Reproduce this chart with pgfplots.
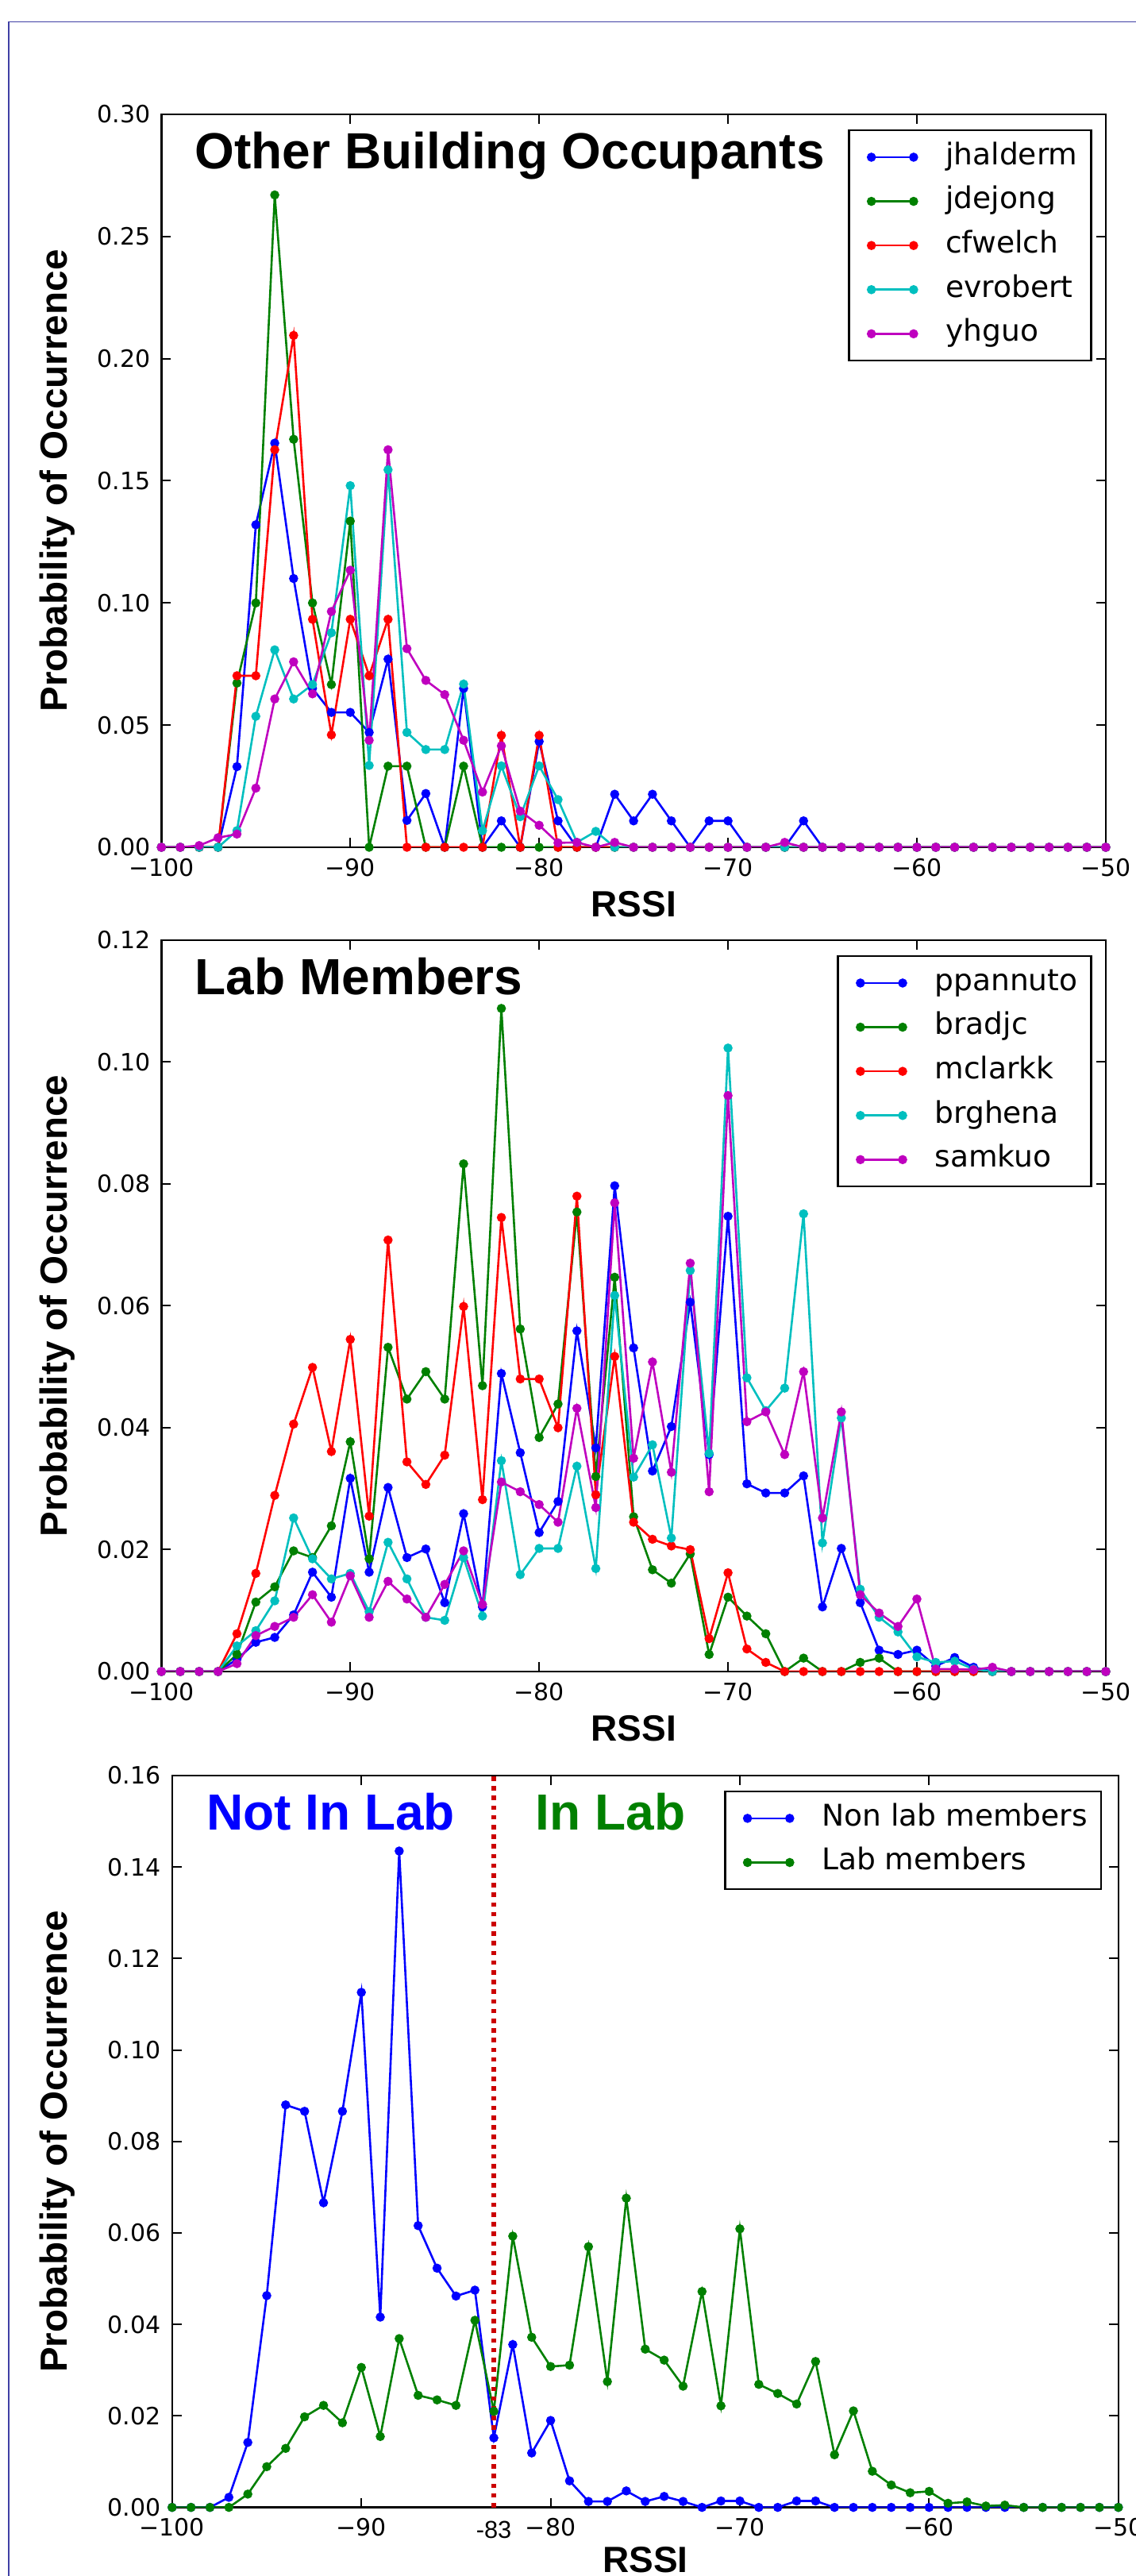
\documentclass[border=0pt]{standalone}
\usepackage{pgfplots}
\pgfplotsset{compat=1.18}
\usepackage{pgfplotstable}
\usepackage{fontspec}
\setmainfont{DejaVu Sans}
\newfontfamily\dejavu{DejaVu Sans}
\newfontfamily\lib{Liberation Sans}
\definecolor{mb}{rgb}{0,0,1}
\definecolor{mg}{rgb}{0,0.5,0}
\definecolor{mr}{rgb}{1,0,0}
\definecolor{mc}{rgb}{0,0.75,0.75}
\definecolor{mm}{rgb}{0.75,0,0.75}
\definecolor{framec}{RGB}{64,64,165}
\definecolor{dred}{RGB}{204,0,0}

% Panel 1: other building occupants
\pgfplotstableread{
x B G R C M
-100 0 0 0 0 0
-99 0 0 0 0 0
-98 0 0 0 0 0.0007
-97 0 0 0 0 0.0039
-96 0.033 0.0672 0.0702 0.0068 0.0054
-95 0.132 0.100 0.0702 0.0536 0.0242
-94 0.1654 0.267 0.1627 0.0808 0.0607
-93 0.110 0.167 0.2095 0.0607 0.0759
-92 0.065 0.100 0.0933 0.0666 0.0628
-91 0.0552 0.0666 0.046 0.0878 0.0965
-90 0.0552 0.1335 0.0933 0.148 0.1134
-89 0.047 0 0.0702 0.0335 0.0438
-88 0.077 0.0332 0.0933 0.1545 0.1627
-87 0.011 0.0332 0 0.047 0.0813
-86 0.022 0 0 0.040 0.0683
-85 0 0 0 0.040 0.0625
-84 0.065 0.0332 0 0.0668 0.0438
-83 0 0 0 0.0068 0.0226
-82 0.0108 0 0.0458 0.0333 0.0415
-81 0 0 0 0.0125 0.0148
-80 0.0433 0 0.0458 0.0333 0.009
-79 0.0108 0 0 0.0195 0.0018
-78 0 0 0 0.002 0.002
-77 0 0 0 0.0065 0
-76 0.0217 0 0 0 0.002
-75 0.0108 0 0 0 0
-74 0.0217 0 0 0 0
-73 0.0108 0 0 0 0
-72 0 0 0 0 0
-71 0.0108 0 0 0 0
-70 0.0108 0 0 0 0
-69 0 0 0 0 0
-68 0 0 0 0 0
-67 0 0 0 0 0.002
-66 0.0108 0 0 0 0
-65 0 0 0 0 0
-64 0 0 0 0 0
-63 0 0 0 0 0
-62 0 0 0 0 0
-61 0 0 0 0 0
-60 0 0 0 0 0
-59 0 0 0 0 0
-58 0 0 0 0 0
-57 0 0 0 0 0
-56 0 0 0 0 0
-55 0 0 0 0 0
-54 0 0 0 0 0
-53 0 0 0 0 0
-52 0 0 0 0 0
-51 0 0 0 0 0
-50 0 0 0 0 0
}\tA

% Panel 2: lab members
\pgfplotstableread{
x B G R C M
-100 0 0 0 0 0
-99 0 0 0 0 0
-98 0 0 0 0 0
-97 0 0 0 0 0
-96 0.002 0.0028 0.0062 0.0042 0.0013
-95 0.0048 0.0114 0.0161 0.0067 0.0059
-94 0.0056 0.0139 0.0289 0.0116 0.0074
-93 0.0093 0.0198 0.0406 0.0252 0.0089
-92 0.0163 0.0187 0.0499 0.0185 0.0126
-91 0.0122 0.0239 0.0361 0.0152 0.0081
-90 0.0317 0.0377 0.0545 0.0161 0.0157
-89 0.0163 0.0185 0.0255 0.0098 0.0089
-88 0.0302 0.0532 0.0708 0.0212 0.0148
-87 0.0187 0.0447 0.0344 0.0152 0.0119
-86 0.0201 0.0492 0.0307 0.0089 0.0089
-85 0.0113 0.0447 0.0355 0.0084 0.0143
-84 0.0259 0.0833 0.0599 0.0187 0.0198
-83 0.0106 0.0469 0.0282 0.0091 0.011
-82 0.0489 0.1088 0.0745 0.0346 0.0311
-81 0.0359 0.0562 0.048 0.0159 0.0295
-80 0.0228 0.0384 0.048 0.0202 0.0274
-79 0.0279 0.0439 0.040 0.0202 0.0245
-78 0.0559 0.0754 0.078 0.0337 0.0432
-77 0.0367 0.032 0.029 0.0169 0.0269
-76 0.0797 0.0647 0.0517 0.0617 0.0769
-75 0.0531 0.0254 0.0245 0.0319 0.035
-74 0.0329 0.0167 0.0217 0.0372 0.0508
-73 0.0402 0.0145 0.0206 0.0219 0.0327
-72 0.0606 0.0193 0.020 0.0658 0.067
-71 0.0356 0.0028 0.0054 0.0358 0.0295
-70 0.0747 0.0122 0.0162 0.1023 0.0945
-69 0.0308 0.0091 0.0037 0.0482 0.041
-68 0.0293 0.0062 0.0015 0.0428 0.0426
-67 0.0293 0 0 0.0465 0.0356
-66 0.0321 0.0022 0 0.0751 0.0492
-65 0.0106 0 0 0.0211 0.0252
-64 0.0202 0 0 0.0416 0.0426
-63 0.0113 0.0015 0 0.0135 0.0126
-62 0.0035 0.0022 0 0.0089 0.0096
-61 0.0028 0 0 0.0065 0.0074
-60 0.0035 0 0 0.0024 0.0119
-59 0.0009 0 0 0.0015 0.0004
-58 0.0023 0 0 0.0017 0.0004
-57 0.0007 0 0 0.0004 0.0003
-56 0 0 0 0 0.0007
-55 0 0 0 0 0
-54 0 0 0 0 0
-53 0 0 0 0 0
-52 0 0 0 0 0
-51 0 0 0 0 0
-50 0 0 0 0 0
}\tB

% Panel 3: aggregated
\pgfplotstableread{
x N L
-100 0 0
-99 0 0
-98 0 0
-97 0.0022 0
-96 0.0142 0.0029
-95 0.0463 0.0089
-94 0.088 0.0129
-93 0.0866 0.0198
-92 0.0666 0.0223
-91 0.0866 0.0185
-90 0.1126 0.0306
-89 0.0416 0.0155
-88 0.1435 0.0369
-87 0.0616 0.0245
-86 0.0523 0.0235
-85 0.0462 0.0223
-84 0.0475 0.0409
-83 0.0152 0.021
-82 0.0356 0.0593
-81 0.0119 0.0372
-80 0.019 0.0308
-79 0.0058 0.0311
-78 0.0013 0.057
-77 0.0013 0.0275
-76 0.0036 0.0676
-75 0.0013 0.0346
-74 0.0024 0.0322
-73 0.0013 0.0265
-72 0 0.0472
-71 0.0014 0.0222
-70 0.0014 0.0609
-69 0 0.0269
-68 0 0.0249
-67 0.0014 0.0226
-66 0.0014 0.0319
-65 0 0.0115
-64 0 0.0211
-63 0 0.0079
-62 0 0.0049
-61 0 0.0032
-60 0 0.0035
-59 0 0.0009
-58 0 0.0012
-57 0 0.0003
-56 0 0.0005
-55 0 0
-54 0 0
-53 0 0
-52 0 0
-51 0 0
-50 0 0
}\tC

\pgfplotsset{
  rssiax/.style={
    scale only axis,
    anchor=south west,
    xmin=-100, xmax=-50, ymin=0,
    xtick={-100,-90,-80,-70,-60,-50},
    xticklabels={−100,−90,−80,−70,−60,−50},
    tick pos=both, tick align=inside,
    major tick length=3pt,
    every tick/.style={black, line width=0.5pt},
    axis line style={black, line width=0.65pt},
    tick label style={font=\dejavu\fontsize{7.5}{9}\selectfont, black},
    xlabel={RSSI},
    ylabel={Probability of Occurrence},
    xlabel style={font=\lib\bfseries\fontsize{11.5}{13}\selectfont, anchor=base},
    ylabel style={font=\lib\bfseries\fontsize{11.9}{14}\selectfont, anchor=center},
    legend cell align=left,
    legend style={anchor=north east, draw=black, line width=0.6pt, fill=white,
       font=\dejavu\fontsize{9.4}{11}\selectfont,
       inner xsep=4.25pt, inner ysep=1.5pt, row sep=0pt, column sep=9pt,
       nodes={inner xsep=0pt, inner ysep=1.5pt, text height=7.8pt, text depth=3.1pt}},
    legend image code/.code={\path (-2.5pt,0pt); \draw[mark repeat=1,mark phase=1,#1] plot coordinates {(0pt,0pt) (13.3pt,0pt)};},
  },
  ser/.style={color=#1, line width=0.65pt, mark=*, mark size=1.1pt, mark options={solid, fill=#1}},
}
\tikzset{ttl/.style={anchor=base west, inner sep=0pt, font=\lib\bfseries\fontsize{16}{19}\selectfont}}

\begin{document}
\begin{tikzpicture}
\useasboundingbox (0,0) rectangle (357.75pt,811pt);

% ---------- Panel 1 ----------
\begin{axis}[rssiax, at={(50.83pt,544.25pt)}, width=297.4pt, height=230.75pt,
  ymax=0.30, ytick={0,0.05,0.1,0.15,0.2,0.25,0.3},
  yticklabels={0.00,0.05,0.10,0.15,0.20,0.25,0.30},
  xlabel style={at={(axis description cs:0.5,-0.0943)}},
  ylabel style={at={(axis description cs:-0.1105,0.5)}},
  legend style={at={(axis description cs:0.9855,0.9794)}}]
\addplot[ser=mb] table[x=x,y=B]{\tA}; \addlegendentry{jhalderm}
\addplot[ser=mg] table[x=x,y=G]{\tA}; \addlegendentry{jdejong}
\addplot[ser=mr] table[x=x,y=R]{\tA}; \addlegendentry{cfwelch}
\addplot[ser=mc] table[x=x,y=C]{\tA}; \addlegendentry{evrobert}
\addplot[ser=mm] table[x=x,y=M]{\tA}; \addlegendentry{yhguo}
\node[ttl, xshift=10.4pt, yshift=-17.2pt] at (rel axis cs:0,1) {Other Building Occupants};
\end{axis}

% ---------- Panel 2 ----------
\begin{axis}[rssiax, at={(50.83pt,284.75pt)}, width=297.4pt, height=230.25pt,
  ymax=0.12, ytick={0,0.02,0.04,0.06,0.08,0.10,0.12},
  yticklabels={0.00,0.02,0.04,0.06,0.08,0.10,0.12},
  xlabel style={at={(axis description cs:0.5,-0.0945)}},
  ylabel style={at={(axis description cs:-0.1105,0.5)}},
  legend style={at={(axis description cs:0.9855,0.9794)}}]
\addplot[ser=mb] table[x=x,y=B]{\tB}; \addlegendentry{ppannuto}
\addplot[ser=mg] table[x=x,y=G]{\tB}; \addlegendentry{bradjc}
\addplot[ser=mr] table[x=x,y=R]{\tB}; \addlegendentry{mclarkk}
\addplot[ser=mc] table[x=x,y=C]{\tB}; \addlegendentry{brghena}
\addplot[ser=mm] table[x=x,y=M]{\tB}; \addlegendentry{samkuo}
\node[ttl, xshift=10.4pt, yshift=-17.2pt] at (rel axis cs:0,1) {Lab Members};
\end{axis}

% ---------- Panel 3 ----------
\begin{axis}[rssiax, at={(54.2pt,21.6pt)}, width=298pt, height=230.4pt,
  ymax=0.16, ytick={0,0.02,0.04,0.06,0.08,0.10,0.12,0.14,0.16},
  yticklabels={0.00,0.02,0.04,0.06,0.08,0.10,0.12,0.14,0.16},
  extra x ticks={-83}, extra x tick labels={-83},
  extra x tick style={major tick length=0pt, tick label style={font=\lib\fontsize{7.7}{9}\selectfont, yshift=-0.8pt}},
  xlabel style={at={(axis description cs:0.5,-0.0885)}},
  ylabel style={at={(axis description cs:-0.1215,0.5)}},
  legend style={at={(axis description cs:0.9826,0.9795)}}]
\addplot[ser=mb] table[x=x,y=N]{\tC}; \addlegendentry{Non lab members}
\addplot[ser=mg] table[x=x,y=L]{\tC}; \addlegendentry{Lab members}
\addplot[dred, line width=1.4pt, dash pattern=on 1.4pt off 1.65pt, forget plot] coordinates {(-83,0) (-83,0.16)};
\node[ttl, text=mb, xshift=10.6pt, yshift=-17.2pt] at (rel axis cs:0,1) {Not In Lab};
\node[ttl, text=mg, xshift=114.3pt, yshift=-17.2pt] at (rel axis cs:0,1) {In Lab};
\end{axis}

% outer frame
\draw[framec, line width=0.4pt] (2.75pt,-5pt) -- (2.75pt,804.1pt) -- (365pt,804.1pt);
\end{tikzpicture}
\end{document}
